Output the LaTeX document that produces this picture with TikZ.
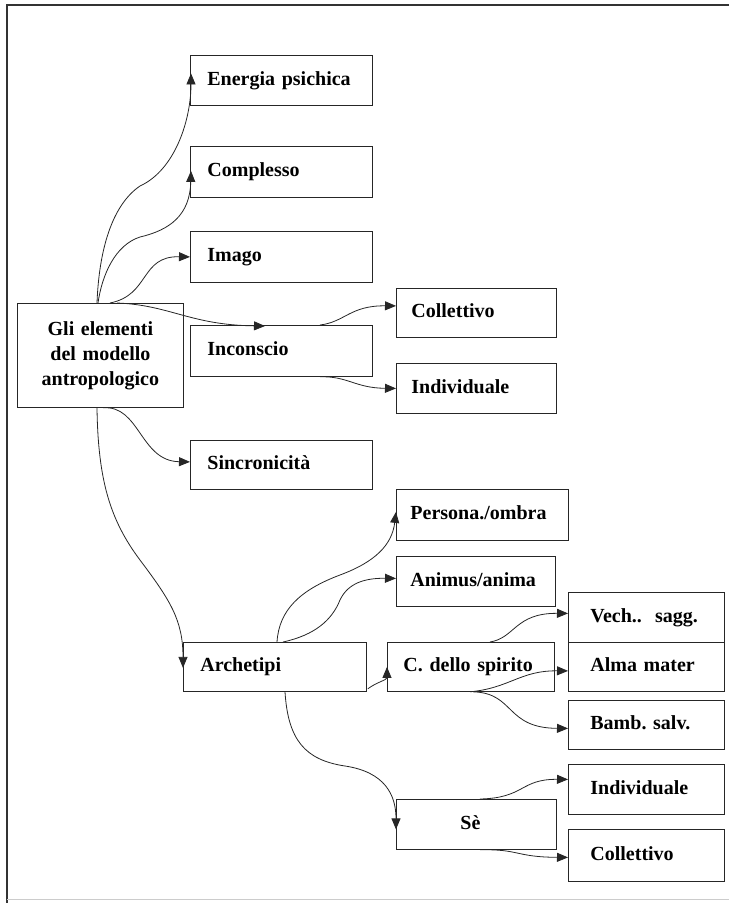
\documentclass[tikz,border=0pt]{standalone}
\usepackage{fontspec}
\setmainfont{Liberation Serif}
\usetikzlibrary{arrows.meta,calc}
\newcommand{\padl}[1]{\hspace*{#1pt}}
\frenchspacing
\tikzset{
  bxbase/.style={draw=black!85, line width=0.8pt, anchor=north west, inner xsep=0pt, inner ysep=0pt},
  bx/.style={bxbase, align=left, font=\fontsize{20}{24}\selectfont\bfseries, text height=14pt, text depth=4.5pt},
  bxmulti/.style={bxbase, align=center, font=\fontsize{20}{25}\selectfont\bfseries},
  link/.style={draw=black!85, line width=0.8pt, -{Triangle[length=11pt,width=9pt]}},
  frameline/.style={draw=black!80, line width=1.1pt}
}
\begin{document}
\begin{tikzpicture}[x=1pt,y=-1pt]
\useasboundingbox (0,0) rectangle (729,903);
% frame
\draw[frameline] (729,5) -- (7,5) -- (7,903);
\draw[black!20, line width=0.6pt] (7,899) -- (729,899);

% boxes
\node[bxmulti, text width=166pt, minimum height=104pt] (gli) at (17,303) {Gli elementi\\del modello\\antropologico};
\node[bx, text width=182pt, minimum height=50pt] (ener) at (190,55) {\padl{17}Energia psichica};
\node[bx, text width=182pt, minimum height=51pt] (comp) at (190,146) {\padl{17}Complesso};
\node[bx, text width=182pt, minimum height=51pt] (imago) at (190,231) {\padl{17}Imago};
\node[bx, text width=182pt, minimum height=51pt] (incon) at (190,325) {\padl{17}Inconscio};
\node[bx, text width=160pt, minimum height=49pt] (coll1) at (396,288) {\padl{15}Collettivo};
\node[bx, text width=160pt, minimum height=50pt] (indiv1) at (396,363) {\padl{15}Individuale};
\node[bx, text width=182pt, minimum height=49pt] (sincr) at (190,440) {\padl{17}Sincronicità};
\node[bx, text width=172pt, minimum height=51pt] (pers) at (396,489) {\padl{14}Persona./ombra};
\node[bx, text width=159pt, minimum height=50pt] (anim) at (396,556) {\padl{14}Animus/anima};
\node[bx, text width=183pt, minimum height=49pt] (arch) at (183,642) {\padl{17}Archetipi};
\node[bx, text width=167pt, minimum height=49pt] (cspir) at (387,642) {\padl{16}C. dello spirito};
\node[bx, text width=156pt, minimum height=50pt] (vech) at (568,592) {\padl{22}Vech..\ \ sagg.};
\node[bx, text width=156pt, minimum height=49pt] (alma) at (568,642) {\padl{22}Alma mater};
\node[bx, text width=156pt, minimum height=49pt] (bamb) at (568,700) {\padl{22}Bamb. salv.};
\node[bx, text width=160pt, minimum height=50pt] (se) at (396,799) {\padl{64}Sè};
\node[bx, text width=156pt, minimum height=50pt] (indiv2) at (568,764) {\padl{22}Individuale};
\node[bx, text width=156pt, minimum height=52pt] (coll2) at (568,829) {\padl{22}Collettivo};

% connectors from Gli elementi
\draw[link] ($(gli.north west)+(80,0)$) .. controls (99,250) and (112,205) .. (140,186)
  .. controls (175,170) and (191,120) .. ($(ener.west)+(1,-7)$);
\draw[link] ($(gli.north west)+(81,0)$) .. controls (102,275) and (115,245) .. (140,237)
  .. controls (170,230) and (190,215) .. ($(comp.west)+(1,-1)$);
\draw[link] ($(gli.north west)+(93,0)$) .. controls (150,295) and (140,256) .. (imago.west);
\draw[link] ($(gli.north west)+(100,0)$) .. controls (170,305) and (190,325) .. ($(incon.north west)+(75,1)$);
\draw[link] ($(gli.south west)+(86,0)$) .. controls (140,405) and (140,461) .. ($(sincr.west)+(0,-3)$);
\draw[link] ($(gli.south west)+(80,0)$) .. controls (98,480) and (110,520) .. (140,560)
  .. controls (170,600) and (183,620) .. ($(arch.west)+(0,1)$);

% Inconscio
\draw[link] ($(incon.north west)+(130,0)$) .. controls (345,322) and (350,305.5) .. ($(coll1.west)+(0,-7)$);
\draw[link] ($(incon.south west)+(130,0)$) .. controls (348,376) and (355,388) .. (indiv1.west);

% Archetipi
\draw[link] ($(arch.north west)+(94,0)$) .. controls (279,610) and (300,590) .. (340,575)
  .. controls (375,562) and (392,545) .. ($(pers.west)+(0,-3)$);
\draw[link] ($(arch.north west)+(100,0)$) .. controls (315,635) and (332,620) .. (340,600)
  .. controls (348,583) and (365,578) .. ($(anim.west)+(0,-3)$);
\draw[link] ($(arch.south east)+(1,-3)$) .. controls (377,682) and (387,680) .. (cspir.west);
\draw[link] ($(arch.south west)+(102,0)$) .. controls (288,740) and (305,760) .. (345,766)
  .. controls (385,772) and (396,795) .. ($(se.west)+(0,5)$);

% C. dello spirito
\draw[link] ($(cspir.north west)+(103,0)$) .. controls (515,638) and (515,613) .. ($(vech.west)+(0,-4)$);
\draw[link] ($(cspir.south west)+(83,0)$) .. controls (510,688) and (520,670.5) .. ($(alma.west)+(0,4)$);
\draw[link] ($(cspir.south west)+(86,0)$) .. controls (515,693) and (505,728) .. ($(bamb.west)+(0,3.5)$);

% Se
\draw[link] ($(se.north west)+(84,0)$) .. controls (525,798) and (520,779) .. ($(indiv2.west)+(0,-10)$);
\draw[link] ($(se.south west)+(84,0)$) .. controls (520,849) and (515,857) .. ($(coll2.west)+(0,2)$);
\end{tikzpicture}
\end{document}
